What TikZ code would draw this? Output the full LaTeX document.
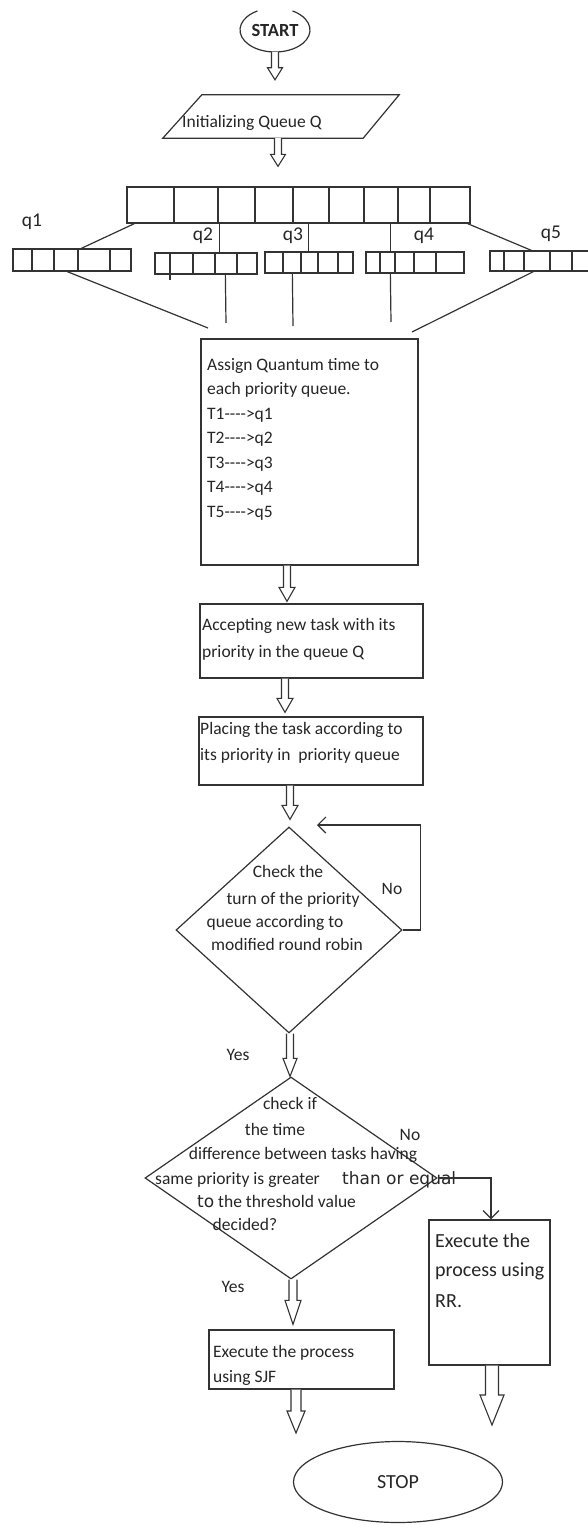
\documentclass[tikz,border=0pt]{standalone}
\usepackage{fontspec}
\setmainfont{Carlito}
\newfontfamily\vfont{DejaVu Sans}
\usetikzlibrary{calc,shapes.geometric,arrows.meta}
\newcommand\blockarrow[5]{%
  \draw[blk] let \p1=#1, \p2=#2 in
    (\x1-#3,\y1) -- (\x1-#3,\y2+#5) -- (\x1-#4,\y2+#5) -- (\x1,\y2)
    -- (\x1+#4,\y2+#5) -- (\x1+#3,\y2+#5) -- (\x1+#3,\y1);}
\tikzset{
  ln/.style={draw=black!80, line width=1.2pt},
  blk/.style={draw=black!80, line width=1.1pt, fill=white},
  box/.style={rectangle, draw=black!80, line width=1.3pt, inner sep=0pt},
  txt/.style={inner sep=0pt, text=black!85, font=\fontsize{17.5pt}{21pt}\selectfont},
  bigtxt/.style={inner sep=0pt, text=black!85, font=\fontsize{20pt}{24pt}\selectfont},
  qlbl/.style={inner sep=0pt, text=black!85, font=\fontsize{19.5pt}{23pt}\selectfont},
  openarrow/.style={ln, -{Straight Barb[length=8pt,width=16pt]}},
}
\begin{document}
\begin{tikzpicture}[x=1pt,y=-1pt]
\useasboundingbox (0,0) rectangle (587,1525);
\fill[white] (0,0) rectangle (587,1525);

% START
\node[ellipse, minimum width=70pt, minimum height=44pt, inner sep=0pt, text=black!85,
      font=\bfseries\fontsize{18.5pt}{22pt}\selectfont] (start) at (275,30) {START};
\draw[ln] (start.center) ++(120:35pt and 22pt)
  arc[start angle=120, end angle=420, x radius=35pt, y radius=22pt];

% Parallelogram
\node[minimum width=236pt, minimum height=43pt, inner sep=0pt] (para) at (281,116.5) {};
\draw[ln] ([xshift=39pt]para.north west) -- (para.north east)
  -- ([xshift=-36pt]para.south east) -- (para.south west) -- cycle;
\node[txt, anchor=mid west] (paratxt) at (182,125) {Initializing Queue Q};

% Big queue
\node[box, minimum width=343pt, minimum height=36pt] (bigq) at (298.5,205) {};
\foreach \x in {174,218,255,293,329,364,398,430} \draw[ln] (\x,187) -- (\x,223);

% small queues
\node[box, minimum width=118pt, minimum height=22pt] (q1) at (72,260) {};
\foreach \x in {32,54,78,110} \draw[ln] (\x,249) -- (\x,271);
\node[box, minimum width=102pt, minimum height=21pt] (q2) at (206,263.5) {};
\foreach \x in {170,193,215,237} \draw[ln] (\x,253) -- (\x,274);
\draw[ln] (170,274) -- (170,280);
\node[box, minimum width=88pt, minimum height=21pt] (q3) at (309,262.5) {};
\foreach \x in {283,301,318,338} \draw[ln] (\x,252) -- (\x,273);
\node[box, minimum width=98pt, minimum height=21pt] (q4) at (415,262.5) {};
\foreach \x in {380,395,414,436} \draw[ln] (\x,252) -- (\x,273);
\node[box, minimum width=110pt, minimum height=20pt] (q5) at (545,261) {};
\foreach \x in {504,524,550,572} \draw[ln] (\x,251) -- (\x,271);

\node[qlbl, anchor=mid] (l1) at (32,224) {q1};
\node[qlbl, anchor=mid] (l2) at (203,238) {q2};
\node[qlbl, anchor=mid] (l3) at (293,238) {q3};
\node[qlbl, anchor=mid] (l4) at (424,238) {q4};
\node[qlbl, anchor=mid] (l5) at (551,236) {q5};

% connectors big queue -> small queues
\draw[ln] ([xshift=8pt]bigq.south west) -- ([xshift=69pt]q1.north west);
\draw[ln] ([xshift=93pt]bigq.south west) -- ([xshift=65pt]q2.north west);
\draw[ln] ([xshift=182pt]bigq.south west) -- ([xshift=44pt]q3.north west);
\draw[ln] ([xshift=264pt]bigq.south west) -- ([xshift=25pt]q4.north west);
\draw[ln] ([xshift=-3pt]bigq.south east) -- ([xshift=42pt]q5.north west);

% connectors small queues -> assign
\coordinate (f1) at (208,328);
\coordinate (f2) at (226,323);
\coordinate (f3) at (293,326);
\coordinate (f4) at (391,322);
\coordinate (f5) at (412,332);
\draw[ln] ([xshift=55pt]q1.south west) -- (f1);
\draw[ln] ([xshift=71pt]q2.south west) -- (f2);
\draw[ln] ([xshift=28pt]q3.south west) -- (f3);
\draw[ln] ([xshift=25pt]q4.south west) -- (f4);
\draw[ln] ([xshift=44pt]q5.south west) -- (f5);

% Assign box
\node[box, minimum width=217pt, minimum height=226pt] (assign) at (309.5,452) {};
\foreach \t [count=\i] in {Assign Quantum time to, each priority queue.,
  T1-{}-{}-{}->q1, T2-{}-{}-{}->q2, T3-{}-{}-{}->q3, T4-{}-{}-{}->q4, T5-{}-{}-{}->q5}
  \node[txt, anchor=mid west] (as\i) at (207,{368+24.5*(\i-1)}) {\t};

% Accepting box
\node[box, minimum width=223pt, minimum height=74pt] (accept) at (311.5,641) {};
\node[txt, anchor=mid west] (ac1) at (202,628) {Accepting new task with its};
\node[txt, anchor=mid west] (ac2) at (202,655) {priority in the queue Q};

% Placing box
\node[box, minimum width=224pt, minimum height=68pt] (placing) at (311,751) {};
\node[txt, anchor=mid west] (pl1) at (200,732) {Placing the task according to};
\node[txt, anchor=mid west] (pl2) at (200,758) {its priority in~ priority queue};

% Diamond 1
\node[diamond, draw=black!80, line width=1.2pt, minimum width=226pt, minimum height=206pt, inner sep=0pt] (d1) at (289,930) {};
\node[txt, anchor=mid] (d1a) at (288,875) {Check the};
\node[txt, anchor=mid] (d1b) at (293,902) {turn of the priority};
\node[txt, anchor=mid] (d1c) at (275,925) {queue according to};
\node[txt, anchor=mid] (d1d) at (287,948) {modified round robin};
\coordinate (lp) at (317,825);
\draw[openarrow] (d1.east) -- ++(18,0) |- (lp);
\node[txt, anchor=mid] (no1) at (392,892) {No};

% Diamond 2
\node[diamond, draw=black!80, line width=1.2pt, minimum width=292pt, minimum height=202pt, inner sep=0pt] (d2) at (291,1178) {};
\node[txt, anchor=mid] (d2a) at (290,1107) {check if};
\node[txt, anchor=mid] (d2b) at (275,1133) {the time};
\node[txt, anchor=mid] (d2c) at (303,1157) {difference between tasks having};
\node[txt, anchor=mid west] (d2d) at (155,1182) {same priority is greater};
\node[txt, anchor=mid west, font=\vfont\fontsize{17pt}{21pt}\selectfont] (d2e) at (342,1182) {than or equal};
\node[txt, anchor=mid west] (d2f) at (197,1205) {{\vfont\fontsize{17pt}{21pt}\selectfont to} the threshold value};
\node[txt, anchor=mid] (d2g) at (245,1228) {decided?};
\node[txt, anchor=mid] (yes1) at (238,1058) {Yes};
\node[txt, anchor=mid] (no2) at (410,1138) {No};
\node[txt, anchor=mid] (yes2) at (233,1290) {Yes};

% RR box
\node[box, minimum width=121pt, minimum height=145pt] (rr) at (489.5,1292.5) {};
\node[bigtxt, anchor=mid west] (rr1) at (435,1245) {Execute the};
\node[bigtxt, anchor=mid west] (rr2) at (435,1274) {process using};
\node[bigtxt, anchor=mid west] (rr3) at (435,1305) {RR.};
\draw[openarrow] (d2.east) -| ([xshift=1.5pt]rr.north);

% SJF box
\node[box, minimum width=185pt, minimum height=59pt] (sjf) at (301.5,1359.5) {};
\node[txt, anchor=mid west] (sj1) at (213,1355) {Execute the process};
\node[txt, anchor=mid west] (sj2) at (213,1380) {using SJF};

% STOP
\node[ellipse, draw=black!80, line width=1.2pt, minimum width=209pt, minimum height=81pt, inner sep=0pt,
      text=black!85, font=\fontsize{20pt}{24pt}\selectfont] (stop) at (398,1482) {STOP};

% block arrows
\coordinate (e8) at (296,1433);
\coordinate (e9) at (492,1425);
\blockarrow{(start.south)}{([yshift=15pt]para.north)}{3.5pt}{7.5pt}{12pt}
\blockarrow{([xshift=-3pt]para.south)}{([yshift=20pt]bigq.north)}{3.5pt}{7.5pt}{12pt}
\blockarrow{([xshift=-22.5pt]assign.south)}{([yshift=2pt]accept.north)}{3.5pt}{8pt}{14pt}
\blockarrow{([xshift=-26.5pt]accept.south)}{([yshift=4pt]placing.north)}{3.5pt}{8pt}{14pt}
\blockarrow{([xshift=-21pt]placing.south)}{([yshift=7pt]d1.north)}{3.5pt}{8pt}{14pt}
\blockarrow{([xshift=1pt]d1.south)}{(d2.north)}{3.5pt}{7pt}{18pt}
\blockarrow{([xshift=2pt]d2.south)}{([yshift=5pt]sjf.north)}{4pt}{8pt}{24pt}
\blockarrow{([xshift=-5.5pt]sjf.south)}{(e8)}{5pt}{9pt}{22pt}
\blockarrow{([xshift=2.5pt]rr.south)}{(e9)}{6.5pt}{12pt}{30pt}
\end{tikzpicture}
\end{document}
